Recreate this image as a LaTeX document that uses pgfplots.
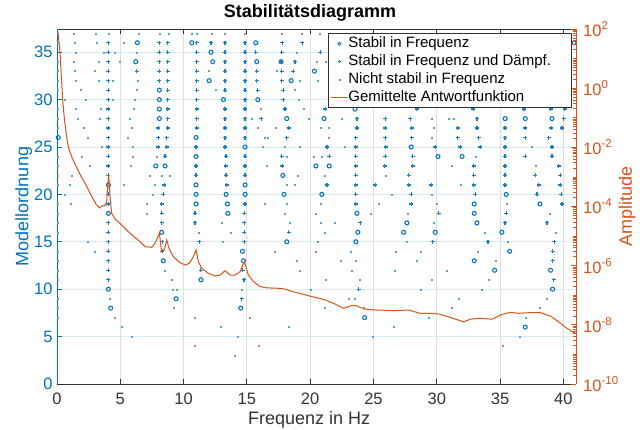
\documentclass[border=0pt]{standalone}
\usepackage{pgfplots}
\pgfplotsset{compat=1.18}
\usepackage{pgfplotstable}
\usepackage{fontspec}
\setmainfont{Liberation Sans}
\definecolor{mlblue}{RGB}{0,114,189}
\definecolor{mlorange}{RGB}{217,83,25}
\definecolor{axgray}{RGB}{50,50,50}
\definecolor{gridgray}{RGB}{223,223,223}
\definecolor{gridblue}{RGB}{217,234,245}
\colorlet{mldot}{mlblue!65}
\colorlet{mlplus}{mlblue!90!white}
\newcommand\ticksize{\fontsize{16.5}{18}\selectfont}
\newcommand\labelsize{\fontsize{18}{20}\selectfont}
\newcommand\legendsize{\fontsize{15}{17}\selectfont}
\newcommand\supsize{\fontsize{11.5}{12}\selectfont}
\newcommand\tenexp[1]{10\raisebox{0.42em}{\supsize #1}}

\pgfplotstableread[row sep=\\]{f n\\
6.35 36\\ 10.65 36\\ 15.7 36\\ 40.85 36\\ 12.17 35\\ 6.22 34\\ 12.3 34\\ 15.78 34\\ 17.7 34\\
20.34 33\\ 12.02 32\\ 18.5 32\\ 8.09 31\\ 8.09 30\\ 13.15 30\\ 15.86 30\\ 8.09 29\\ 23.55 29\\
8.09 28\\ 18.15 28\\ 21.1 28\\ 35.4 28\\ 36.99 28\\ 39.1 28\\ 0.1 26\\ 10.99 26\\ 14.86 25\\ 27.98 25\\
10.99 24\\ 30.1 24\\ 32.0 24\\ 7.8 23\\ 8.54 23\\ 20.45 23\\ 21.5 23\\ 17.84 22\\ 4.06 21\\ 10.99 21\\ 14.86 21\\
10.99 20\\ 13.36 20\\ 14.86 20\\ 17.94 20\\ 20.92 20\\ 35.49 20\\ 10.99 19\\ 13.46 19\\ 32.96 19\\ 38.15 19\\
4.06 18\\ 13.49 18\\ 23.69 18\\ 32.96 18\\ 27.64 17\\ 33.17 17\\ 8.27 16\\ 23.77 16\\ 27.38 16\\ 29.88 16\\ 35.15 16\\
18.15 15\\ 23.61 15\\ 14.65 14\\ 35.76 14\\ 8.4 13\\ 14.73 13\\ 32.96 13\\ 34.57 12\\ 38.99 12\\ 11.38 11\\
4.06 10\\ 39.15 10\\ 9.41 9\\ 4.24 8\\ 14.51 8\\ 24.3 7\\ 36.99 6\\
}\circtab

\pgfplotstableread[row sep=\\]{f n\\
4.06 36\\ 8.09 36\\ 8.75 36\\ 11.04 36\\ 12.17 36\\ 13.28 36\\ 14.86 36\\ 17.8 36\\ 19.39 36\\
4.06 35\\ 8.09 35\\ 8.75 35\\ 11.04 35\\ 13.28 35\\ 14.86 35\\ 15.7 35\\ 17.76 35\\ 20.8 35\\
4.06 34\\ 8.09 34\\ 8.75 34\\ 11.04 34\\ 13.28 34\\ 14.86 34\\ 17.7 34\\ 18.81 34\\
4.06 33\\ 6.3 33\\ 8.09 33\\ 8.75 33\\ 11.04 33\\ 13.28 33\\ 14.86 33\\ 15.78 33\\ 17.76 33\\ 18.68 33\\
4.06 32\\ 8.09 32\\ 8.75 32\\ 11.04 32\\ 13.28 32\\ 14.86 32\\ 15.78 32\\ 17.76 32\\
4.06 31\\ 8.75 31\\ 11.04 31\\ 13.28 31\\ 14.86 31\\ 15.86 31\\ 17.89 31\\
4.06 30\\ 8.75 30\\ 11.04 30\\ 14.86 30\\ 17.89 30\\
4.06 29\\ 8.75 29\\ 11.04 29\\ 13.28 29\\ 14.86 29\\ 18.02 29\\ 21.2 29\\ 28.4 29\\ 32.9 29\\ 36.9 29\\ 39.0 29\\ 40.1 29\\
4.06 28\\ 8.75 28\\ 11.04 28\\ 13.28 28\\ 14.86 28\\ 16.13 28\\ 23.69 28\\ 25.93 28\\ 27.9 28\\ 33.17 28\\ 40.03 28\\
4.06 27\\ 8.01 27\\ 8.75 27\\ 11.04 27\\ 13.28 27\\ 14.86 27\\ 18.29 27\\ 23.69 27\\ 25.93 27\\ 28.03 27\\ 31.65 27\\ 33.17 27\\ 35.4 27\\ 36.99 27\\ 39.05 27\\ 39.89 27\\
4.06 26\\ 8.01 26\\ 8.67 26\\ 13.28 26\\ 14.86 26\\ 18.15 26\\ 23.6 26\\ 25.93 26\\ 28.03 26\\ 31.65 26\\ 33.3 26\\ 35.4 26\\ 36.99 26\\ 38.84 26\\
4.06 25\\ 8.01 25\\ 8.67 25\\ 10.99 25\\ 13.28 25\\ 21.32 25\\ 23.6 25\\ 25.98 25\\ 29.88 25\\ 31.86 25\\ 33.44 25\\ 35.4 25\\ 39.1 25\\
4.06 24\\ 8.54 24\\ 13.36 24\\ 14.86 24\\ 17.76 24\\ 21.5 24\\ 23.6 24\\ 25.93 24\\ 28.09 24\\ 35.4 24\\ 36.99 24\\ 39.1 24\\
4.06 23\\ 10.99 23\\ 13.33 23\\ 14.86 23\\ 17.81 23\\ 23.6 23\\ 25.88 23\\ 28.09 23\\ 32.91 23\\ 35.4 23\\ 39.63 23\\
4.06 22\\ 10.99 22\\ 13.36 22\\ 14.86 22\\ 23.6 22\\ 27.77 22\\ 32.91 22\\ 35.4 22\\ 37.79 22\\ 39.76 22\\
8.48 21\\ 13.41 21\\ 21.32 21\\ 23.6 21\\ 25.14 21\\ 27.77 21\\ 29.56 21\\ 32.91 21\\ 35.4 21\\ 38.05 21\\ 39.76 21\\
4.06 20\\ 8.41 20\\ 23.6 20\\ 27.98 20\\ 33.04 20\\ 37.92 20\\ 39.84 20\\
4.06 19\\ 8.27 19\\ 14.86 19\\ 23.6 19\\ 27.98 19\\ 39.89 19\\
8.27 18\\ 10.91 18\\ 14.81 18\\ 30.14 18\\ 35.49 18\\
4.06 17\\ 8.27 17\\ 10.91 17\\ 14.81 17\\ 23.95 17\\ 35.4 17\\ 38.7 17\\
4.06 16\\ 14.81 16\\ 18.29 16\\
4.06 15\\ 8.33 15\\ 11.25 15\\ 14.81 15\\ 29.67 15\\ 34.04 15\\ 39.28 15\\
4.06 14\\ 8.33 14\\ 39.15 14\\ 4.06 13\\ 39.15 13\\ 4.06 12\\ 11.36 12\\ 14.68 12\\
4.06 11\\ 14.78 11\\ 39.23 11\\ 23.82 10\\ 14.59 9\\
}\plustab

\pgfplotstableread[row sep=\\]{f n\\
1.29 37\\ 3.06 37\\ 4.06 37\\ 6.43 37\\ 8.14 37\\ 8.8 37\\ 10.65 37\\ 11.04 37\\ 12.23 37\\ 13.28 37\\ 14.86 37\\ 17.76 37\\ 19.34 37\\ 20.79 37\\ 22.11 37\\ 23.82 37\\ 26.32 37\\ 28.7 37\\ 31.07 37\\ 31.99 37\\ 33.17 37\\ 33.83 37\\ 35.41 37\\ 37.26 37\\ 38.97 37\\ 39.76 37\\
1.42 36\\ 3.14 36\\ 5.24 36\\
1.45 35\\ 3.66 35\\ 4.58 35\\ 6.3 35\\ 18.95 35\\
1.29 34\\ 3.27 34\\ 4.98 34\\ 20.5 34\\ 21.2 34\\
1.37 33\\ 2.95 33\\ 11.96 33\\ 17.37 33\\
1.45 32\\ 3.27 32\\ 4.37 32\\ 6.38 32\\ 19.21 32\\ 20.6 32\\
1.9 31\\ 6.3 31\\ 12.54 31\\ 18.81 31\\ 21.45 31\\ 21.8 31\\
0.63 30\\ 2.27 30\\ 4.37 30\\ 6.17 30\\ 19.08 30\\ 21.5 30\\
1.45 29\\ 3.48 29\\ 6.09 29\\ 16.13 29\\ 19.47 29\\
1.63 28\\ 3.4 28\\ 5.77 28\\ 15.4 28\\ 19.87 28\\ 22.5 28\\ 29.6 28\\ 30.93 28\\ 31.33 28\\
2.08 27\\ 5.9 27\\ 15.86 27\\ 17.29 27\\ 20.87 27\\ 21.5 27\\ 29.75 27\\
2.42 26\\ 5.59 26\\ 16.44 26\\ 16.65 26\\ 21.45 26\\ 29.6 26\\
3.53 25\\ 5.98 25\\ 16.26 25\\ 17.97 25\\ 19.21 25\\ 22.7 25\\ 37.52 25\\
1.95 24\\ 5.95 24\\ 7.88 24\\ 18.15 24\\ 20.26 24\\ 20.92 24\\ 33.04 24\\
2.61 23\\ 5.85 23\\ 16.57 23\\ 31.15 23\\ 37.79 23\\
1.16 22\\ 7.35 22\\ 8.27 22\\ 8.93 22\\ 19.03 22\\ 21.13 22\\ 25.93 22\\
1.03 21\\ 5.24 21\\ 7.75 21\\ 18.15 21\\ 18.76 21\\ 31.86 21\\
0.63 20\\ 7.54 20\\ 26.45 20\\ 29.6 20\\
1.1 19\\ 7.09 19\\ 16.44 19\\ 18.15 19\\ 20.8 19\\ 25.4 19\\ 30.0 19\\ 35.55 19\\
7.09 18\\ 18.02 18\\ 20.4 18\\ 24.8 18\\ 27.72 18\\ 38.9 18\\
13.02 17\\ 18.36 17\\ 20.87 17\\ 21.92 17\\ 29.75 17\\
11.17 16\\ 13.75 16\\ 21.13 16\\ 33.78 16\\ 39.36 16\\
2.42 15\\ 13.1 15\\ 20.6 15\\ 27.64 15\\ 35.6 15\\
2.95 14\\ 17.23 14\\ 20.4 14\\ 23.24 14\\ 26.72 14\\ 28.72 14\\ 33.25 14\\
18.93 13\\ 22.45 13\\ 23.56 13\\ 28.43 13\\ 34.62 13\\
8.54 12\\ 19.21 12\\ 23.29 12\\ 26.64 12\\ 30.8 12\\
9.1 11\\ 21.26 11\\ 23.9 11\\ 29.59 11\\ 34.1 11\\
9.17 10\\ 9.43 10\\ 14.6 10\\ 20.08 10\\ 28.7 10\\ 33.52 10\\
4.19 9\\ 23.03 9\\ 23.5 9\\ 31.73 9\\ 38.7 9\\
9.25 8\\ 21.18 8\\ 24.22 8\\ 31.15 8\\ 38.13 8\\
4.53 7\\ 10.85 7\\ 15.2 7\\ 29.35 7\\ 36.99 7\\
5.11 6\\ 12.97 6\\ 18.29 6\\ 26.59 6\\
5.9 5\\ 14.26 5\\ 24.96 5\\ 36.52 5\\
10.91 4\\ 15.97 4\\ 35.2 4\\ 14.07 3\\
0.08 7\\ 0.08 8\\ 0.08 9\\ 0.08 11\\ 0.08 12\\ 0.08 13\\ 0.08 14\\ 0.08 16\\ 0.08 17\\ 0.08 18\\ 0.08 19\\ 0.08 21\\ 0.08 22\\ 0.08 23\\ 0.08 24\\ 0.08 27\\ 0.08 28\\ 0.08 29\\ 0.08 31\\ 0.08 32\\ 0.08 33\\ 0.08 34\\ 0.08 36\\ 0.08 37\\
}\dottab

\pgfplotstableread[row sep=\\]{f A\\
0.08 75.9\\ 0.24 16.2\\ 0.32 3.72\\ 0.45 0.398\\ 0.58 0.0955\\ 0.77 0.0214\\ 0.9 0.01\\ 1.16 4.79e-3\\ 1.5 2.34e-3\\ 1.87 1.10e-3\\
2.29 5.37e-4\\ 2.66 2.57e-4\\ 3.08 1.20e-4\\ 3.35 8.91e-5\\ 3.55 1.05e-4\\ 3.8 1.07e-4\\ 3.93 1.58e-4\\ 4.0 4.68e-4\\ 4.08 1.15e-3\\ 4.19 2.14e-4\\
4.32 5.89e-5\\ 4.58 3.80e-5\\ 4.98 2.69e-5\\ 5.51 1.58e-5\\ 6.03 1.0e-5\\ 6.56 6.46e-6\\ 6.96 4.37e-6\\ 7.49 4.17e-6\\ 7.75 5.75e-6\\ 7.95 8.91e-6\\
8.09 1.23e-5\\ 8.2 5.01e-6\\ 8.27 2.95e-6\\ 8.46 3.31e-6\\ 8.67 7.41e-6\\ 8.85 3.80e-6\\ 9.2 2.0e-6\\ 9.72 1.26e-6\\ 10.12 1.05e-6\\ 10.46 1.20e-6\\
10.77 2.0e-6\\ 10.99 3.39e-6\\ 11.17 1.35e-6\\ 11.44 8.13e-7\\ 11.96 5.50e-7\\ 12.49 4.47e-7\\ 12.89 4.79e-7\\ 13.28 6.76e-7\\ 13.68 4.79e-7\\ 14.07 4.79e-7\\
14.47 6.31e-7\\ 14.65 1.0e-6\\ 14.81 1.35e-6\\ 15.0 7.08e-7\\ 15.12 4.79e-7\\ 15.52 2.88e-7\\ 16.05 1.95e-7\\ 16.57 1.78e-7\\ 17.76 1.70e-7\\ 18.42 1.41e-7\\
20.0 9.33e-8\\ 21.05 7.24e-8\\ 21.84 5.37e-8\\ 22.63 3.63e-8\\ 23.3 4.47e-8\\ 23.56 4.57e-8\\ 23.95 3.89e-8\\ 24.35 3.39e-8\\ 25.27 3.16e-8\\ 26.59 3.02e-8\\
27.77 3.16e-8\\ 28.7 2.45e-8\\ 29.49 2.45e-8\\ 30.14 2.34e-8\\ 31.07 1.78e-8\\ 32.12 1.26e-8\\ 32.65 1.55e-8\\ 33.44 1.66e-8\\ 34.36 1.55e-8\\ 35.15 2.24e-8\\
35.81 2.63e-8\\ 36.47 2.45e-8\\ 37.26 2.57e-8\\ 38.18 2.57e-8\\ 38.97 2.0e-8\\ 39.63 1.26e-8\\ 40.29 7.59e-9\\ 41.0 5.01e-9\\
}\frftab

\begin{document}
\begin{tikzpicture}
\path[use as bounding box] (-57pt,-46pt) rectangle (586pt,384pt);
\begin{axis}[
  at={(0pt,0pt)}, anchor=south west,
  scale only axis, width=519pt, height=355pt,
  xmin=0, xmax=41, ymin=0, ymax=37.45,
  xtick={0,5,...,40}, ytick={0,5,...,35},
  separate axis lines,
  x axis line style={color=axgray, line width=0.8pt},
  y axis line style={color=mlblue, line width=0.8pt},
  xtick pos=both, ytick pos=left,
  tick align=inside, major tick length=5pt,
  xtick style={color=axgray, line width=0.8pt},
  ytick style={color=mlblue, line width=0.8pt},
  grid=major,
  x grid style={color=gridgray, line width=0.8pt},
  y grid style={color=gridblue, line width=0.8pt},
  tick label style={font=\ticksize},
  /pgf/number format/assume math mode=true,
  xticklabel style={color=axgray, anchor=base, yshift=-21pt, inner sep=0pt},
  yticklabel style={color=mlblue, anchor=east, xshift=-4.3pt, inner sep=0pt},
  xlabel={Frequenz in Hz},
  xlabel style={at={(axis description cs:0.486,-0.1155)}, anchor=base, font=\labelsize, color=axgray, inner sep=0pt},
  ylabel={Modellordnung},
  ylabel style={at={(axis description cs:-0.0553,0.5)}, anchor=base, font=\labelsize, color=mlblue, inner sep=0pt},
  title={Stabilitätsdiagramm},
  title style={at={(axis description cs:0.4875,1.016)}, anchor=base, font=\labelsize\bfseries, inner sep=0pt},
]
\addplot[only marks, mark=square*, mark size=0.5pt, color=mldot, mark options={draw=none, fill=mldot}] table[x=f,y=n] {\dottab};
\addplot[only marks, mark=o, mark size=2pt, color=mlblue, mark options={draw=mlblue, line width=1.05pt}] table[x=f,y=n] {\circtab};
\addplot[only marks, mark=+, mark size=2pt, color=mlplus, mark options={draw=mlplus, line width=1.25pt}] table[x=f,y=n] {\plustab};
\end{axis}
\begin{axis}[
  at={(0pt,0pt)}, anchor=south west,
  scale only axis, width=519pt, height=355pt,
  xmin=0, xmax=41, ymode=log, ymin=1e-10, ymax=1e2,
  axis x line=none, xtick=\empty,
  axis y line*=right,
  y axis line style={color=mlorange, line width=0.8pt, -},
  ytick={1e-10,1e-8,1e-6,1e-4,1e-2,1,1e2},
  yticklabels={\tenexp{-10},\tenexp{-8},\tenexp{-6},\tenexp{-4},\tenexp{-2},\tenexp{0},\tenexp{2}},
  minor ytick={2e-10,3e-10,4e-10,5e-10,6e-10,7e-10,8e-10,9e-10,1e-9,2e-9,3e-9,4e-9,5e-9,6e-9,7e-9,8e-9,9e-9,2e-8,3e-8,4e-8,5e-8,6e-8,7e-8,8e-8,9e-8,1e-7,2e-7,3e-7,4e-7,5e-7,6e-7,7e-7,8e-7,9e-7,2e-6,3e-6,4e-6,5e-6,6e-6,7e-6,8e-6,9e-6,1e-5,2e-5,3e-5,4e-5,5e-5,6e-5,7e-5,8e-5,9e-5,2e-4,3e-4,4e-4,5e-4,6e-4,7e-4,8e-4,9e-4,1e-3,2e-3,3e-3,4e-3,5e-3,6e-3,7e-3,8e-3,9e-3,2e-2,3e-2,4e-2,5e-2,6e-2,7e-2,8e-2,9e-2,1e-1,2e-1,3e-1,4e-1,5e-1,6e-1,7e-1,8e-1,9e-1,2,3,4,5,6,7,8,9,10,20,30,40,50,60,70,80,90},
  tick align=inside, major tick length=5pt, minor tick length=2.6pt,
  ytick style={color=mlorange, line width=0.8pt},
  yticklabel style={color=mlorange, anchor=west, xshift=7pt, inner sep=0pt, font=\ticksize},
  ylabel={Amplitude},
  ylabel style={at={(axis description cs:1.1079,0.5)}, anchor=base, font=\labelsize, color=mlorange, inner sep=0pt},
  legend cell align=left,
  legend style={at={(axis description cs:0.5222,0.9879)}, anchor=north west, draw=axgray, line width=0.6pt, fill=white,
    inner xsep=2pt, inner ysep=2.5pt, row sep=3pt, font=\legendsize,
    nodes={inner xsep=0pt, inner ysep=0pt, text height=11.5pt, text depth=3.5pt}},
]
\addlegendimage{only marks, mark=o, mark size=1.6pt, color=mlblue, mark options={draw=mlblue, line width=0.8pt}}
\addlegendimage{only marks, mark=+, mark size=1.8pt, color=mlplus, mark options={draw=mlplus, line width=1.1pt}}
\addlegendimage{only marks, mark=square*, mark size=0.5pt, color=mldot, mark options={draw=none, fill=mldot}}
\addplot[color=mlorange, line width=1pt, no marks] table[x=f,y=A] {\frftab};
\legend{Stabil in Frequenz, Stabil in Frequenz und Dämpf.\hspace*{18pt}, Nicht stabil in Frequenz, Gemittelte Antwortfunktion}
\end{axis}
\end{tikzpicture}
\end{document}
